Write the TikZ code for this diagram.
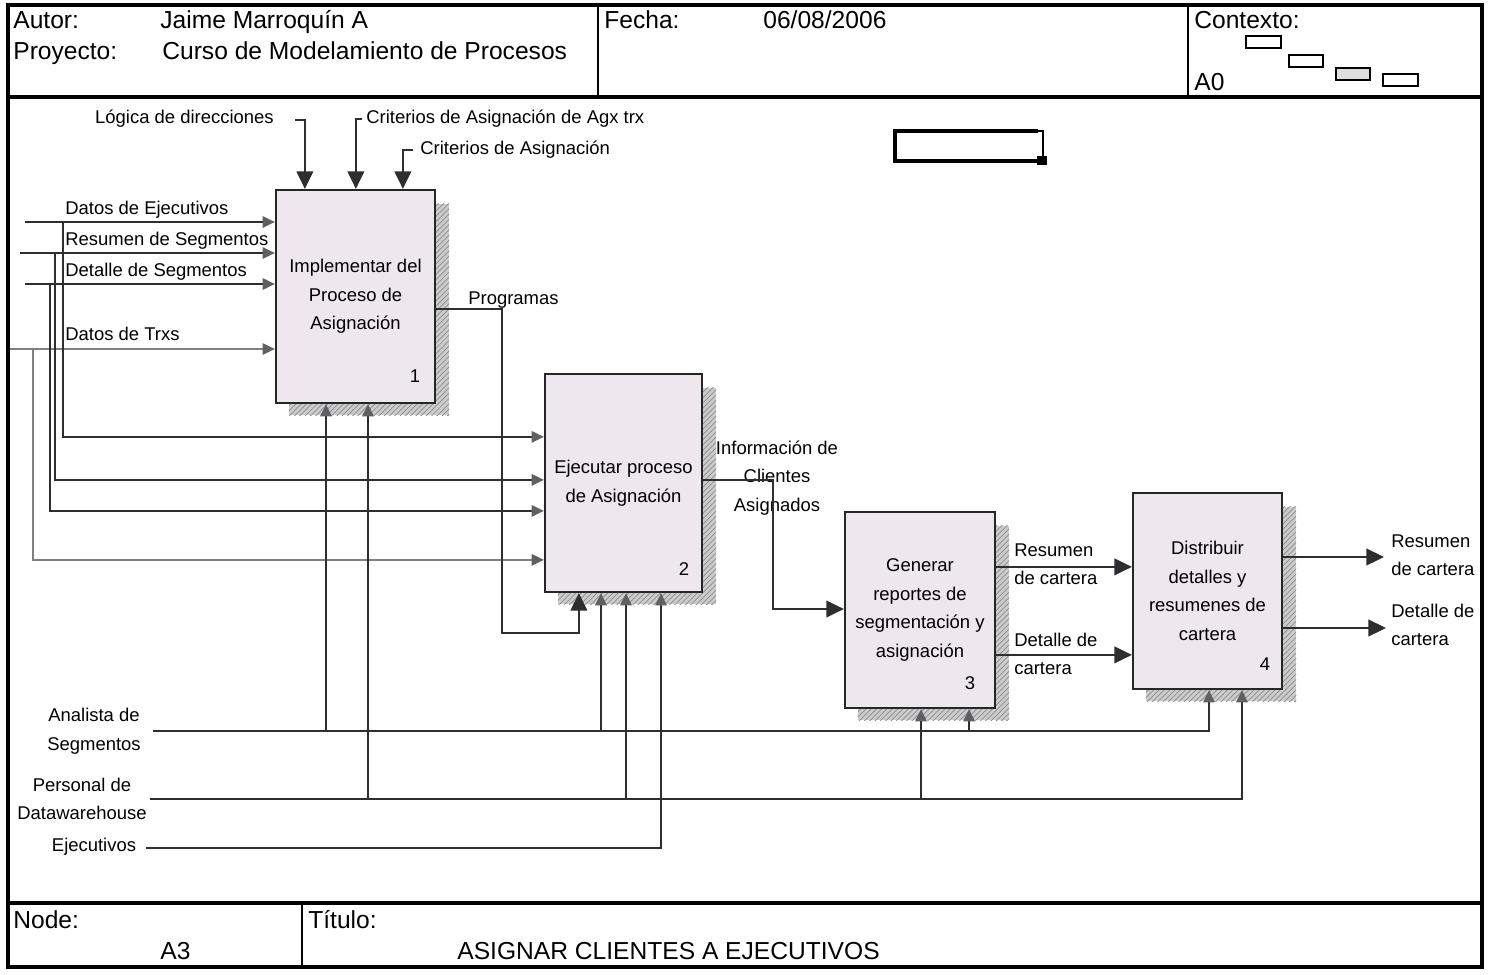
\documentclass[tikz,border=0pt]{standalone}
\usepackage{fontspec}
\setmainfont{Liberation Sans}
\usetikzlibrary{arrows.meta,patterns,backgrounds}

\definecolor{boxfill}{RGB}{238,231,238}
\definecolor{wirecol}{RGB}{45,45,50}
\definecolor{tipgray}{RGB}{95,95,100}

\tikzset{
  actbox/.style={draw=black!85, line width=1.3pt, fill=boxfill, inner sep=0pt,
    align=center, font=\fontsize{10.5}{16.2}\selectfont},
  lbl/.style={inner sep=0pt, align=left, font=\fontsize{10.5}{16.2}\selectfont},
  hdr/.style={inner sep=0pt, anchor=base west, font=\fontsize{14}{16}\selectfont},
  wire/.style={draw=wirecol, line width=1pt},
  arr/.style={wire, -{Triangle[length=10pt,width=9.5pt]}},
  sarr/.style={wire, -{Triangle[length=7pt,width=6.5pt,color=tipgray]}},
  hatch/.style={preaction={fill=gray!40}, pattern=north east lines, pattern color=gray!90},
}

\begin{document}
\begin{tikzpicture}[x=0.02cm, y=-0.02cm]
  \useasboundingbox (0,0) rectangle (1491,974);
  \draw[line width=1.8pt] (8,5) rectangle (1482,967);
  \draw[line width=1.8pt] (8,97) -- (1482,97);
  \draw[line width=1.8pt] (8,903) -- (1482,903);
  \draw[line width=1pt] (598,5) -- (598,97) (1188,5) -- (1188,97) (302,903) -- (302,967);

  \node[hdr] at (13,28) (autor) {Autor:};
  \node[hdr] at (160,28) (autorv) {Jaime Marroquín A};
  \node[hdr] at (13,59) (proy) {Proyecto:};
  \node[hdr] at (162,59) (proyv) {Curso de Modelamiento de Procesos};
  \node[hdr] at (604,28) (fecha) {Fecha:};
  \node[hdr] at (763,28) (fechav) {06/08/2006};
  \node[hdr] at (1194,28) (ctx) {Contexto:};
  \node[hdr] at (1194,90) (ctxv) {A0};
  \draw[line width=1.1pt] (1246,36) rectangle (1281,48) (1289,55) rectangle (1323,67)
    (1383,74) rectangle (1418,86);
  \draw[line width=1.1pt, fill=gray!25] (1336,68) rectangle (1370,80);

  \node[hdr] at (13,928) (nodelbl) {Node:};
  \node[hdr] at (160,959) (nodev) {A3};
  \node[hdr] at (308,928) (titulo) {Título:};
  \node[hdr] at (457,959) (titulov) {ASIGNAR CLIENTES A EJECUTIVOS};

  \draw[line width=2.6pt] (1038,131) -- (895,131) -- (895,161) -- (1038,161);
  \draw[line width=1.2pt] (1037,131) -- (1043,131) -- (1043,157);
  \fill (1037,156) rectangle (1047,165);

  \node[actbox, minimum width=3.18cm, minimum height=4.26cm] at (355.5,296.5) (b1)
    {Implementar del\\Proceso de\\Asignación};
  \node[actbox, minimum width=3.14cm, minimum height=4.36cm] at (623.5,483) (b2)
    {Ejecutar proceso\\de Asignación};
  \node[actbox, minimum width=3.0cm, minimum height=3.92cm] at (920,610) (b3)
    {Generar\\reportes de\\segmentación y\\asignación};
  \node[actbox, minimum width=2.98cm, minimum height=3.92cm] at (1207.5,591) (b4)
    {Distribuir\\detalles y\\resumenes de\\cartera};
  \begin{scope}[on background layer]
    \foreach \b in {b1,b2,b3,b4} {
      \fill[hatch] ([shift={(0,15)}]\b.north east) rectangle ([shift={(13,11)}]\b.south east);
      \fill[hatch] ([shift={(14,0)}]\b.south west) rectangle ([shift={(13,11)}]\b.south east);
    }
  \end{scope}
  \node[lbl] at (415,376) (n1) {1};
  \node[lbl] at (684,569) (n2) {2};
  \node[lbl] at (970,683) (n3) {3};
  \node[lbl] at (1265,664) (n4) {4};

  \node[lbl, anchor=east] at (274,119) (logica) {Lógica de direcciones};
  \node[lbl, anchor=west] at (366,119) (critagx) {Criterios de Asignación de Agx trx};
  \node[lbl, anchor=west] at (420,150) (crit) {Criterios de Asignación};
  \coordinate (lg) at (295,120);
  \coordinate (cg) at (362,119);
  \coordinate (cr) at (413,150);
  \draw[arr] (lg) -| ([shift={(30,0)}]b1.north west);
  \draw[arr] (cg) -| ([shift={(81,0)}]b1.north west);
  \draw[arr] (cr) -| ([shift={(128,0)}]b1.north west);

  \node[lbl, anchor=west] at (65,210) (dej) {Datos de Ejecutivos};
  \node[lbl, anchor=west] at (65,241) (rseg) {Resumen de Segmentos};
  \node[lbl, anchor=west] at (65,272) (dseg) {Detalle de Segmentos};
  \node[lbl, anchor=west] at (65,334) (dtrx) {Datos de Trxs};
  \coordinate (in1) at (25,222);
  \coordinate (in2) at (20,253);
  \coordinate (in3) at (25,284);
  \coordinate (in4) at (10,349);
  \draw[sarr] (in1) -- (in1 -| b1.west);
  \draw[sarr] (in2) -- (in2 -| b1.west);
  \draw[sarr] (in3) -- (in3 -| b1.west);
  \draw[sarr, draw=gray] (in4) -- (in4 -| b1.west);
  \coordinate (br1) at (63,222);
  \coordinate (br2) at (55,253);
  \coordinate (br3) at (50,284);
  \coordinate (br4) at (33,349);
  \draw[sarr] (br1) |- ([shift={(0,64)}]b2.north west);
  \draw[sarr] (br2) |- ([shift={(0,107)}]b2.north west);
  \draw[sarr] (br3) |- ([shift={(0,138)}]b2.north west);
  \draw[sarr, draw=gray] (br4) |- ([shift={(0,187)}]b2.north west);

  \node[lbl, anchor=west] at (468,300) (prog) {Programas};
  \coordinate (pg) at (502,633);
  \draw[arr] ([shift={(0,120)}]b1.north east) -| (pg) -| ([shift={(35,0)}]b2.south west);

  \node[lbl, align=center] at (777,478) (info) {Información de\\Clientes\\Asignados};
  \coordinate (ic) at (773,609);
  \draw[arr] ([shift={(0,107)}]b2.north east) -| (ic) -- (ic -| b3.west);

  \node[lbl, anchor=west] at (1014,564) (rcart) {Resumen\\de cartera};
  \node[lbl, anchor=west] at (1014,654) (dcart) {Detalle de\\cartera};
  \draw[arr] ([shift={(0,56)}]b3.north east) -- ([shift={(0,75)}]b4.north west);
  \draw[arr] ([shift={(0,144)}]b3.north east) -- ([shift={(0,163)}]b4.north west);

  \node[lbl, anchor=west] at (1391,555) (rcout) {Resumen\\de cartera};
  \node[lbl, anchor=west] at (1391,625) (dcout) {Detalle de\\cartera};
  \coordinate (out1) at (1384,557);
  \coordinate (out2) at (1386,628);
  \draw[arr] (out1 -| b4.east) -- (out1);
  \draw[arr] (out2 -| b4.east) -- (out2);

  \node[lbl, align=center] at (94,731) (anal) {Analista de\\Segmentos};
  \node[lbl, align=center] at (82,799) (pers) {Personal de\\Datawarehouse};
  \node[lbl, align=center] at (94,847) (ejec) {Ejecutivos};
  \coordinate (ana) at (153,731);
  \coordinate (per) at (150,799);
  \coordinate (eje) at (146,848);
  \coordinate (ja1) at (326,731);
  \coordinate (ja2) at (601,731);
  \coordinate (ja3) at (969,731);
  \coordinate (ja4) at (1209,731);
  \coordinate (jp1) at (368,799);
  \coordinate (jp2) at (626,799);
  \coordinate (jp3) at (921,799);
  \coordinate (jp4) at (1242,799);
  \coordinate (je) at (661,848);
  \draw[sarr] (ana) -- (ja4) -- (ja4 |- b4.south);
  \draw[sarr] (ja1) -- (ja1 |- b1.south);
  \draw[sarr] (ja2) -- (ja2 |- b2.south);
  \draw[sarr] (ja3) -- (ja3 |- b3.south);
  \draw[sarr] (per) -- (jp4) -- (jp4 |- b4.south);
  \draw[sarr] (jp1) -- (jp1 |- b1.south);
  \draw[sarr] (jp2) -- (jp2 |- b2.south);
  \draw[sarr] (jp3) -- (jp3 |- b3.south);
  \draw[sarr] (eje) -- (je) -- (je |- b2.south);
\end{tikzpicture}
\end{document}
